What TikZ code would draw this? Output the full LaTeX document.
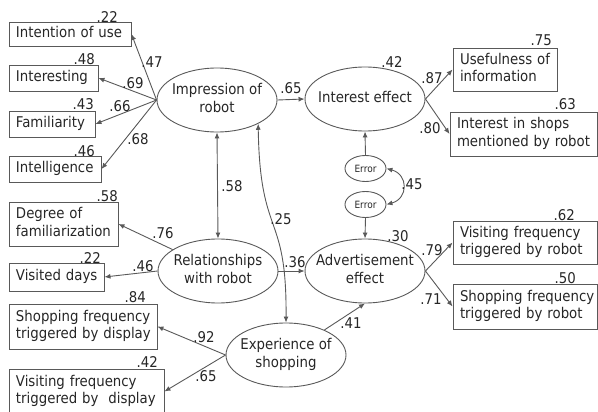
\documentclass[tikz,border=0pt]{standalone}
\usepackage{fontspec}
\setmainfont{DejaVu Sans Condensed}
\usetikzlibrary{shapes.geometric,arrows.meta}
\definecolor{linegray}{gray}{0.35}
\definecolor{textgray}{gray}{0.15}
\newcommand{\ovaltxt}[1]{\makebox[0pt]{\begin{tabular}{@{}c@{}}#1\end{tabular}}}
\newcommand{\obstxt}[1]{\begin{tabular}{@{}l@{}}#1\end{tabular}}
\tikzset{
  lat/.style={ellipse, draw=linegray, line width=0.9pt, inner sep=0pt, minimum width=120pt, minimum height=64pt},
  err/.style={ellipse, draw=linegray, line width=0.9pt, inner sep=0pt, minimum width=41pt, minimum height=26pt, font=\fontsize{10}{12}\selectfont},
  obs/.style={rectangle, draw=linegray, line width=0.9pt, inner xsep=7pt, inner ysep=0pt},
  arr/.style={draw=linegray, line width=0.9pt, -{Latex[length=6pt,width=5pt]}},
  darr/.style={draw=linegray, line width=0.9pt, {Latex[length=6pt,width=5pt]}-{Latex[length=6pt,width=5pt]}},
  coef/.style={inner sep=0pt},
  rsq/.style={inner sep=0pt, anchor=base east}
}
\begin{document}
\begin{tikzpicture}[x=1pt, y=-1pt, font=\fontsize{14.8}{17.5}\selectfont, text=textgray]
  \useasboundingbox (0,0) rectangle (598,412);

  % latent variables
  \node[lat] (imp) at (217,100) {\ovaltxt{Impression of\\robot}};
  \node[lat] (inte) at (365,99) {\ovaltxt{Interest effect}};
  \node[lat] (rel) at (218,271) {\ovaltxt{Relationships\\with robot}};
  \node[lat] (adv) at (365,271) {\ovaltxt{Advertisement\\effect}};
  \node[lat] (exp) at (286,355) {\ovaltxt{Experience of\\shopping}};
  \node[err] (err1) at (365.5,168.5) {Error};
  \node[err] (err2) at (365.5,204.5) {Error};

  % observed variables
  \node[obs, text width=108pt, minimum height=24pt] (use) at (70,34) {\obstxt{Intention of use}};
  \node[obs, text width=75pt, minimum height=26pt] (intr) at (53.5,78) {\obstxt{Interesting}};
  \node[obs, text width=72pt, minimum height=26pt] (fam) at (52,124) {\obstxt{Familiarity}};
  \node[obs, text width=78pt, minimum height=26pt] (intel) at (55,169) {\obstxt{Intelligence}};
  \node[obs, text width=95pt, minimum height=44pt] (deg) at (63.5,224) {\obstxt{Degree of\\familiarization}};
  \node[obs, text width=81pt, minimum height=28pt] (vis) at (56.5,277) {\obstxt{Visited days}};
  \node[obs, text width=134pt, minimum height=45pt] (shd) at (83,326.5) {\obstxt{Shopping frequency\\triggered by display}};
  \node[obs, text width=141pt, minimum height=45pt] (vid) at (86.5,391.5) {\obstxt{Visiting frequency\\triggered by~ display}};
  \node[obs, text width=90pt, minimum height=43pt] (usef) at (505,69.5) {\obstxt{Usefulness of\\information}};
  \node[obs, text width=133pt, minimum height=44pt] (shops) at (523.5,134) {\obstxt{Interest in shops\\mentioned by robot}};
  \node[obs, text width=130pt, minimum height=43pt] (vrob) at (525,242.5) {\obstxt{Visiting frequency\\triggered by robot}};
  \node[obs, text width=130pt, minimum height=45pt] (srob) at (525,306.5) {\obstxt{Shopping frequency\\triggered by robot}};

  % paths
  \foreach \source/\dest in {imp.west/use.east, imp.west/intr.east, imp.west/fam.east, imp.west/intel.east,
      imp.east/inte.west, inte.east/usef.west, inte.east/shops.west, err1.north/inte.south,
      err2.south/adv.north, rel/deg.east, rel.west/vis.east, rel.east/adv.west,
      exp.west/shd.east, exp.west/vid.east, exp/adv.south, adv.east/vrob.west, adv.east/srob.west}
    \draw[arr] (\source) -- (\dest);
  \draw[darr] (imp.south) -- (rel.north);
  \draw[darr] (imp.-30) .. controls (260,240) and (287,210) .. (exp.north);
  \draw[darr] (err1.east) .. controls +(22,6) and +(22,-6) .. (err2.east);

  % path coefficients
  \foreach \name/\pos/\val in {c1/{(152,62)}/.47, c2/{(133,83)}/.69, c3/{(120,106)}/.66, c4/{(138,139)}/.68,
      c5/{(232,186)}/.58, c6/{(291,88)}/.65, c7/{(432,78)}/.87, c8/{(430,128)}/.80,
      c9/{(412,184)}/.45, c10/{(163,233)}/.76, c11/{(143,266)}/.46, c12/{(204,337)}/.92,
      c13/{(206,376)}/.65, c14/{(281,219)}/.25, c15/{(295,262)}/.36, c16/{(432,250)}/.79,
      c17/{(431,299)}/.71, c18/{(351,323)}/.41, c19/{(392,62)}/.42, c20/{(398,236)}/.30}
    \node[coef] (\name) at \pos {\val};

  % squared multiple correlations
  \foreach \name/\pos/\val in {r1/{(118,23)}/.22, r2/{(95,65)}/.48, r3/{(94,110)}/.43, r4/{(95,157)}/.46,
      r5/{(118,201)}/.58, r6/{(101,263)}/.22, r7/{(146,302)}/.84, r8/{(158,367)}/.42,
      r9/{(552,46)}/.75, r10/{(576,110)}/.63, r11/{(575,220)}/.62, r12/{(576,283)}/.50}
    \node[rsq] (\name) at \pos {\val};
\end{tikzpicture}
\end{document}
